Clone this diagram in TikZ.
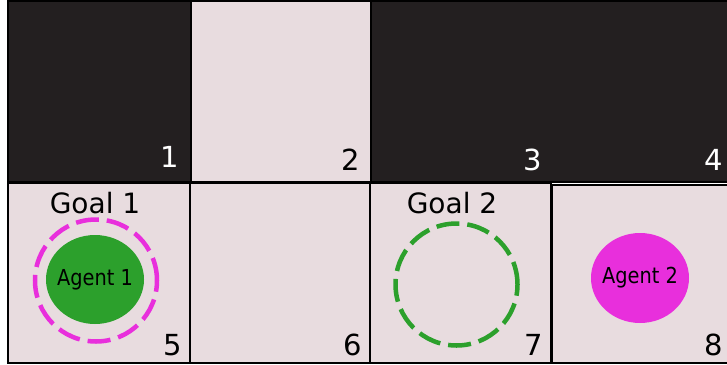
\documentclass[tikz,border=0pt]{standalone}
\usepackage{fontspec}
\setmainfont{DejaVu Sans}
\newfontfamily\condfont{DejaVu Sans}[FakeStretch=0.88]
\definecolor{darkcell}{HTML}{231F20}
\definecolor{lightcell}{HTML}{E8DCDF}
\definecolor{agentgreen}{HTML}{2CA02C}
\definecolor{agentpink}{HTML}{E82FDC}
\tikzset{
  cell/.style={draw=black, line width=2pt, inner sep=0pt, outer sep=0pt},
  darkbox/.style={cell, fill=darkcell},
  lightbox/.style={cell, fill=lightcell},
  numlab/.style={anchor=base east, inner sep=0pt, font=\fontsize{29}{34}\selectfont},
  goallab/.style={anchor=base, inner sep=0pt, font=\fontsize{28}{34}\selectfont},
  agentlab/.style={inner sep=0pt, font=\condfont\fontsize{22}{26}\selectfont},
  goalring/.style={circle, line width=4.5pt, minimum size=122pt, inner sep=0pt, dash pattern=on 23pt off 8pt},
  agentdisk/.style={ellipse, inner sep=0pt, draw=none}
}
\usetikzlibrary{shapes.geometric}
\begin{document}
\begin{tikzpicture}[x=1pt,y=-1pt]
\useasboundingbox[fill=white] (0,0) rectangle (727,364);
% top row
\node[darkbox, minimum width=183pt, minimum height=181pt] (c1) at (99.5,91.5) {};
\node[lightbox, minimum width=180pt, minimum height=181pt] (c2) at (281,91.5) {};
\node[darkbox, minimum width=360pt, minimum height=181pt] (c34) at (551,91.5) {};
% bottom row
\node[lightbox, minimum width=182pt, minimum height=180pt] (c5) at (99,273) {};
\node[lightbox, minimum width=180pt, minimum height=180pt] (c6) at (280,273) {};
\node[lightbox, minimum width=181pt, minimum height=180pt] (c7) at (460.5,273) {};
\node[lightbox, minimum width=176pt, minimum height=178pt] (c8) at (640,274) {};
% numbers
\node[numlab, text=white] (n1) at (179,167) {1};
\node[numlab, text=black] (n2) at (360,170) {2};
\node[numlab, text=white] (n3) at (542,170) {3};
\node[numlab, text=white] (n4) at (723,170) {4};
\node[numlab, text=black] (n5) at (182,355) {5};
\node[numlab, text=black] (n6) at (362,355) {6};
\node[numlab, text=black] (n7) at (543,355) {7};
\node[numlab, text=black] (n8) at (723,355) {8};
% goals
\node[goallab] (g1) at (95,213) {Goal 1};
\node[goallab] (g2) at (452,213) {Goal 2};
% agent 1 and goal 1 ring
\node[agentdisk, fill=agentgreen, minimum width=98pt, minimum height=89pt] (a1) at (95,279.5) {};
\node[agentlab] (a1t) at (a1) {Agent 1};
\node[goalring, draw=agentpink] (r1) at (96,280.5) {};
% goal 2 ring
\node[goalring, draw=agentgreen] (r2) at (456.5,284.5) {};
% agent 2
\node[agentdisk, fill=agentpink, minimum width=98pt, minimum height=90pt] (a2) at (640,278) {};
\node[agentlab] (a2t) at (a2) {Agent 2};
\end{tikzpicture}
\end{document}
